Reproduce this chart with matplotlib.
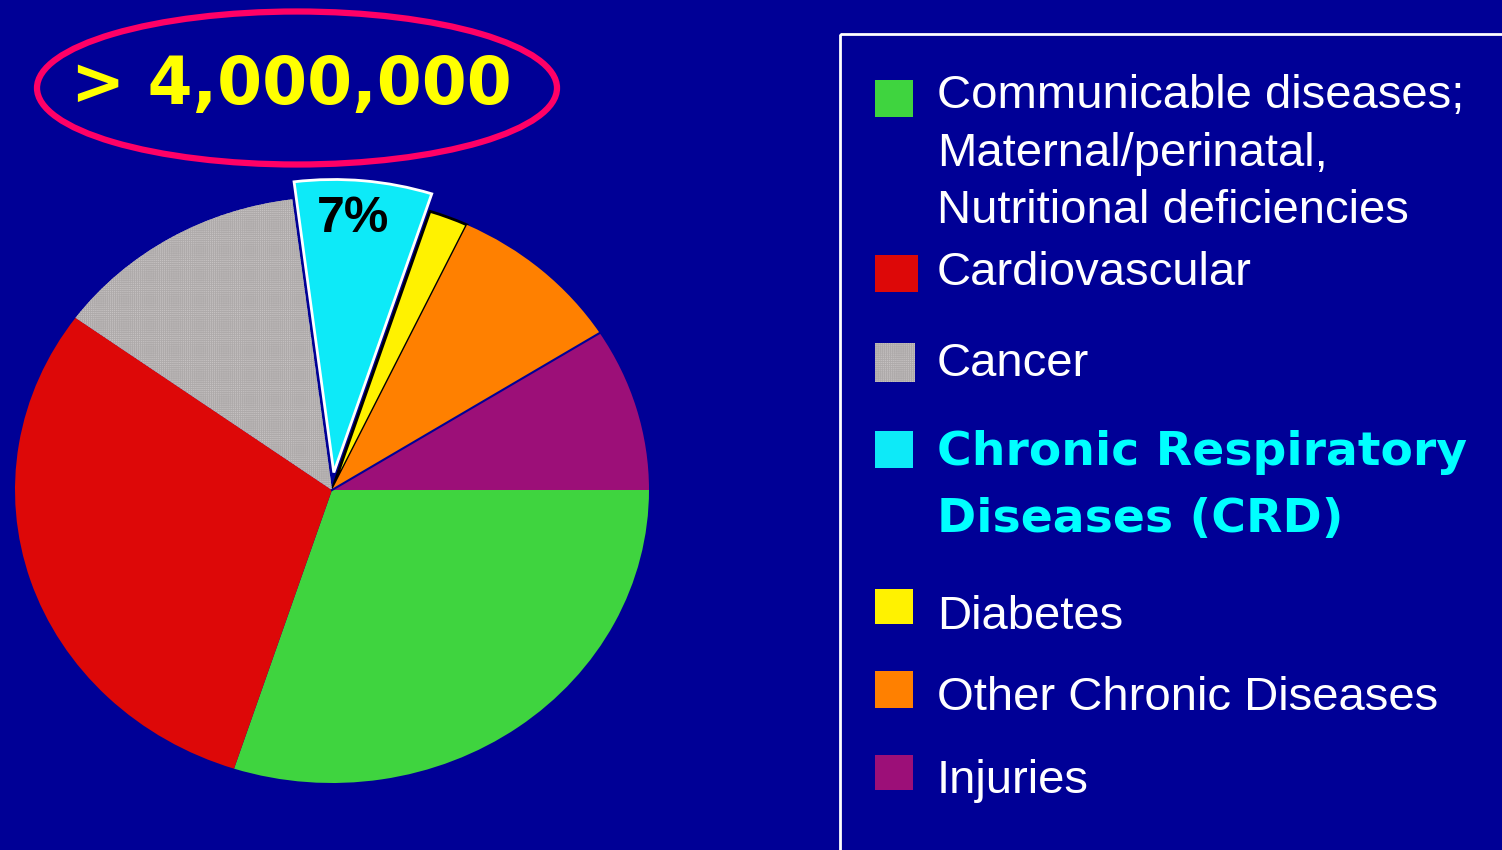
import matplotlib
matplotlib.use('Agg')
import matplotlib.pyplot as plt
from matplotlib.patches import Ellipse, Rectangle
import numpy as np

# ---- data ----
categories = ["Communicable diseases;\nMaternal/perinatal,\nNutritional deficiencies",
              "Cardiovascular", "Cancer", "Chronic Respiratory\nDiseases (CRD)",
              "Diabetes", "Other Chronic Diseases", "Injuries"]
shares = [30, 30, 13, 7, 2, 9, 9]
colors = ['#3fd43f', '#dd0808', '#c6c2c2', '#0deaf8', '#fff200', '#ff8000', '#9c0f78']
highlight = "Chronic Respiratory\nDiseases (CRD)"
total_label = "> 4,000,000"
crd_label = "7%"

BG = '#000096'
W, H = 1502, 850
plt.rcParams['hatch.linewidth'] = 0.6
fig = plt.figure(figsize=(15.02, 8.5), dpi=100, facecolor=BG)

# pie geometry in pixels (y from top)
cx, cy, rx, ry = 332, 490, 317, 293
ax = fig.add_axes([0, 0, 1, 1])
ax.set_facecolor('none')
explode = [0.06 if c == highlight else 0 for c in categories]
wedges, _ = ax.pie(shares, colors=colors, startangle=0, counterclock=False,
                   explode=explode, wedgeprops=dict(linewidth=0))
ax.set_aspect('auto')
ax.set_xlim(-cx / rx, (W - cx) / rx)
ax.set_ylim(-(H - cy) / ry, cy / ry)
ax.axis('off')

hi = categories.index(highlight)
for i, w in enumerate(wedges):
    if categories[i] == "Cancer":
        w.set_hatch('++++++++')
        w.set_edgecolor('#aeaaaa')
        w.set_linewidth(0)
    if i == hi:
        w.set_edgecolor('white')
        w.set_linewidth(2)
    if categories[i] == "Diabetes":
        w.set_edgecolor('black')
        w.set_linewidth(2)
        w.set_zorder(0.5)

# thin navy separator between "Other Chronic" and "Injuries"
cum = np.cumsum(shares) / np.sum(shares)
k = categories.index("Other Chronic Diseases")
th = np.deg2rad(-360 * cum[k])
ax.plot([0, np.cos(th)], [0, np.sin(th)], color=BG, lw=1.5, zorder=3)

# percentage label in the highlighted wedge
t1 = np.deg2rad(-360 * (cum[hi - 1] if hi > 0 else 0))
t2 = np.deg2rad(-360 * cum[hi])
tm = (t1 + t2) / 2
r_lab = 0.86 + explode[hi]
ax.text(r_lab * np.cos(tm) - 0.02, r_lab * np.sin(tm) + 0.01, crd_label, ha='center', va='center',
        fontsize=36, fontweight='bold', color='black', family='Liberation Sans', zorder=4)

# ---- overlay in pixel coordinates ----
ov = fig.add_axes([0, 0, 1, 1])
ov.set_xlim(0, W)
ov.set_ylim(H, 0)
ov.axis('off')
ov.set_facecolor('none')

ov.add_patch(Ellipse((297, 88), 520, 153, fill=False, edgecolor='#ff0066', lw=4.5))
ov.text(291, 104, total_label, ha='center', va='baseline', fontsize=46.5,
        fontweight='bold', color='#ffff00', family='DejaVu Sans')

# legend frame
ov.add_patch(Rectangle((840, 34), 720, 900, fill=False, edgecolor='white', lw=2))

sq_tops = [80, 255, 343, 431, 589, 671, 755]
sq_w = [38, 43, 40, 38, 38, 38, 38]
sq_h = [37, 37, 39, 37, 35, 37, 35]
baselines = [108, 285, 376, 465, 629, 710, 793]
for i, lab in enumerate(categories):
    if lab == "Cancer":
        ov.add_patch(Rectangle((875, sq_tops[i]), sq_w[i], sq_h[i], facecolor=colors[i],
                               edgecolor='#aeaaaa', lw=0, hatch='++++++++'))
    else:
        ov.add_patch(Rectangle((875, sq_tops[i]), sq_w[i], sq_h[i], facecolor=colors[i],
                               edgecolor='none'))
    lines = lab.split('\n')
    if lab == highlight:
        for j, ln in enumerate(lines):
            ov.text(937, baselines[i] + 67 * j, ln, ha='left', va='baseline', fontsize=34,
                    fontweight='bold', color='#00ffff', family='DejaVu Sans')
    else:
        for j, ln in enumerate(lines):
            ov.text(937, baselines[i] + 57.5 * j, ln, ha='left', va='baseline', fontsize=34,
                    color='white', family='Liberation Sans')

fig.savefig('out.png', dpi=100, facecolor=BG)
